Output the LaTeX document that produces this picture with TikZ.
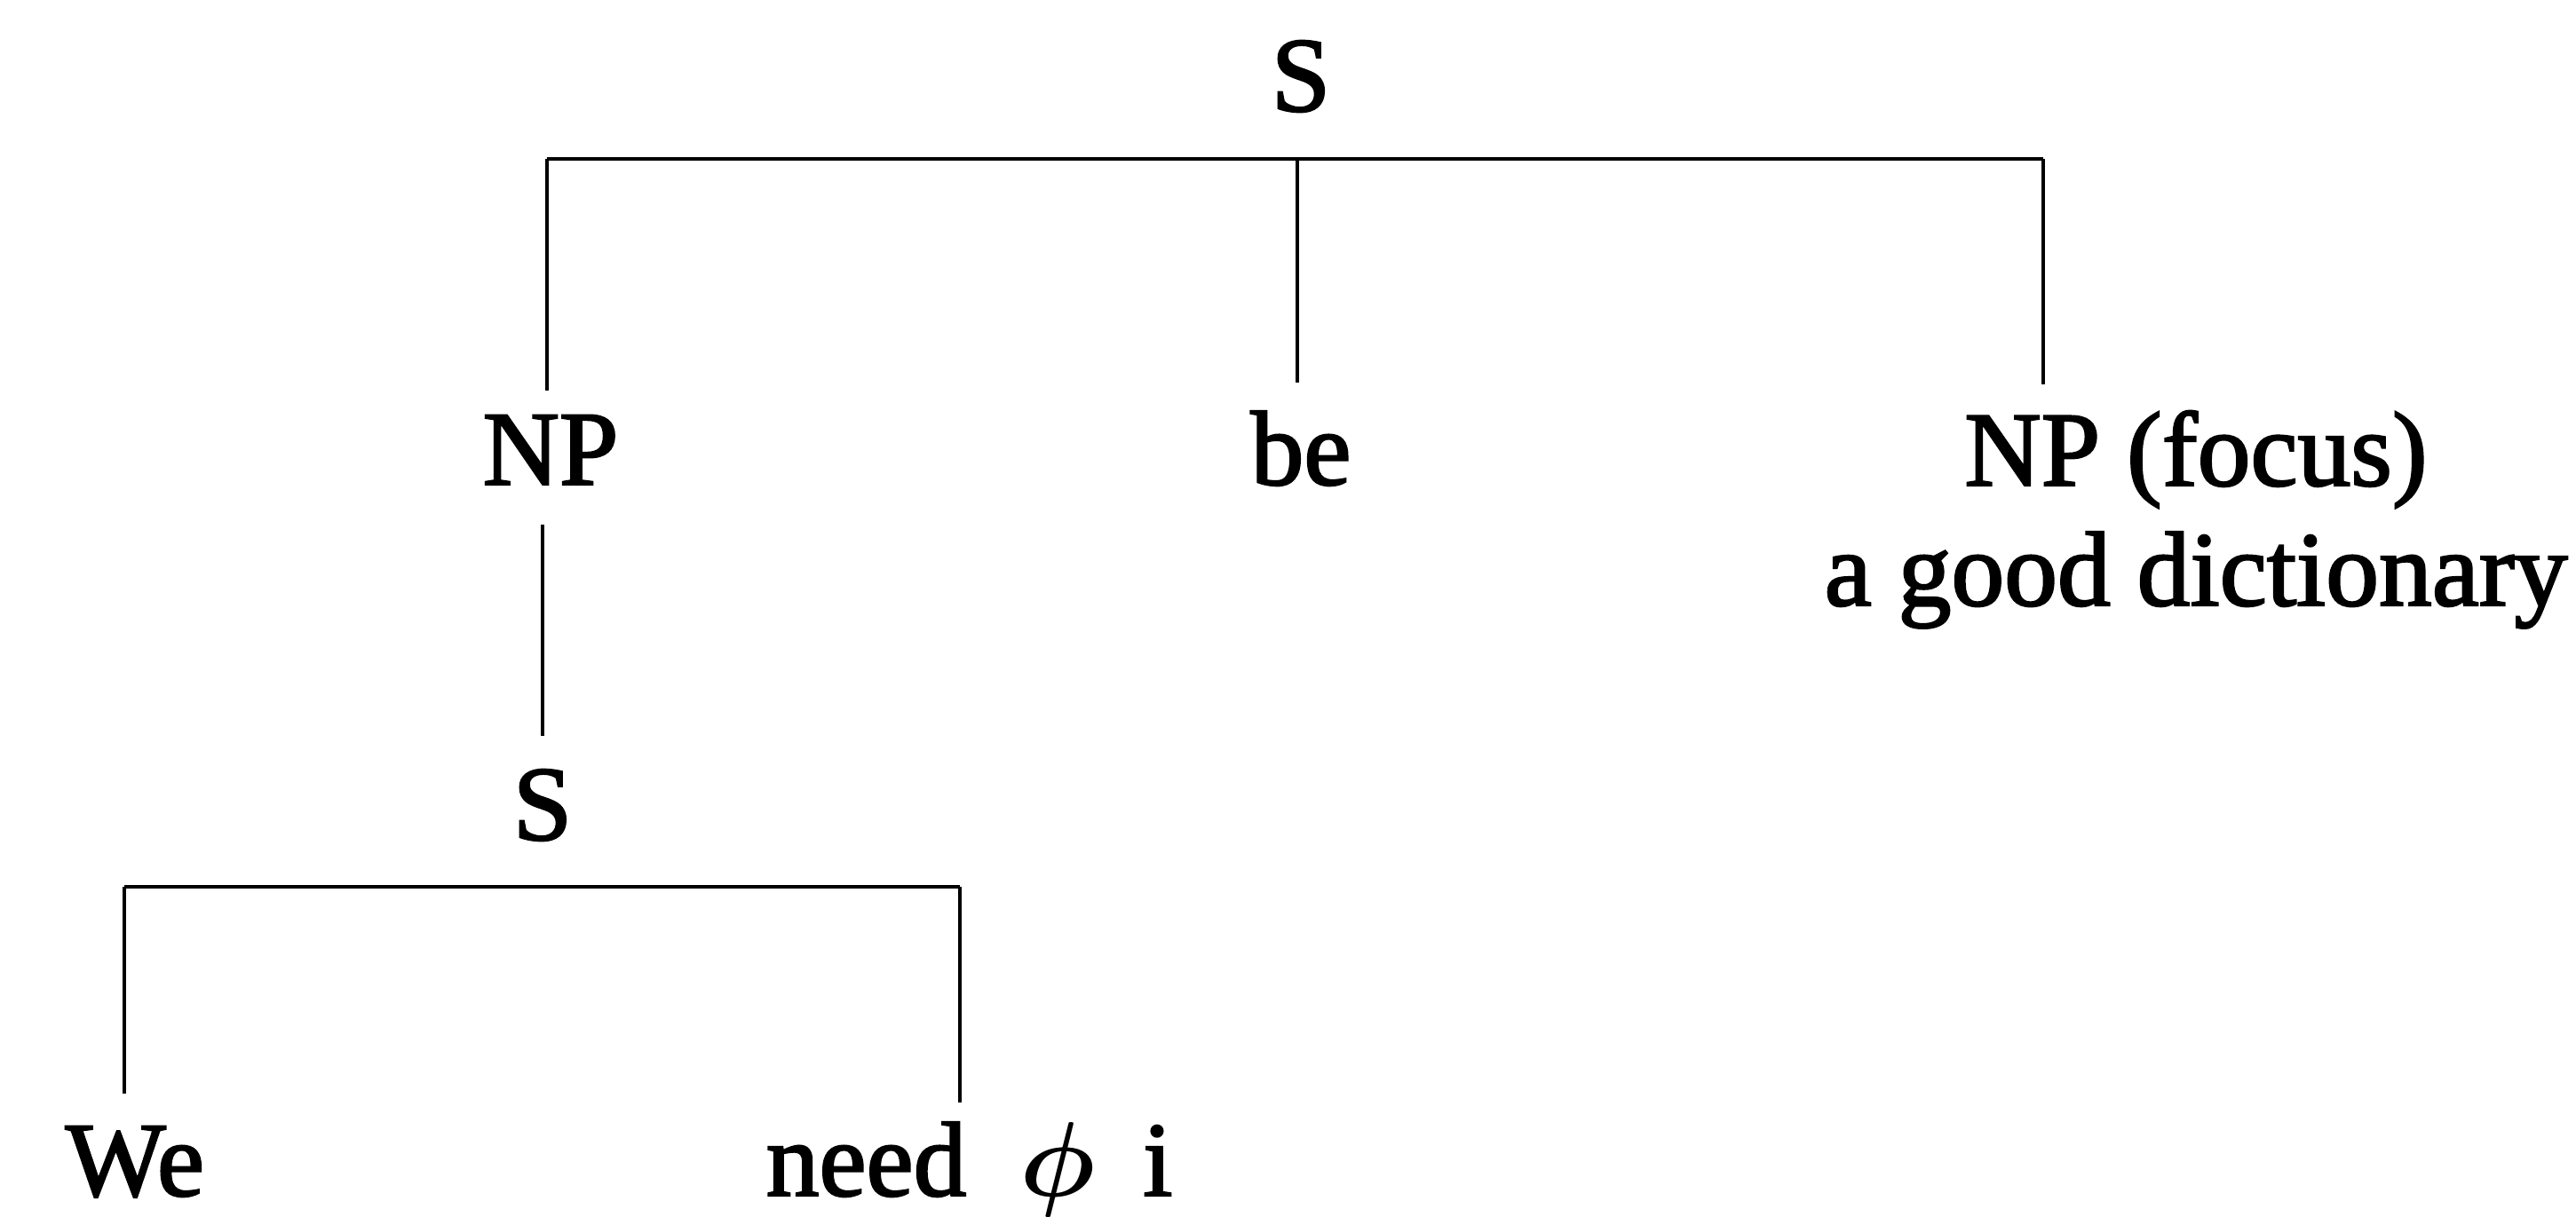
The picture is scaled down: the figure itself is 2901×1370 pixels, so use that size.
\RequirePackage{fix-cm}
\documentclass[tikz,border=0pt]{standalone}
\usepackage{fontspec}
\setmainfont{Liberation Serif}[UprightFeatures={FakeBold=2}]
\usepackage{bm}
\usetikzlibrary{positioning}

\begin{document}
\begin{tikzpicture}[x=0.01cm, y=-0.01cm,
	lab/.style={font=\fontsize{34}{38.4}\selectfont, inner sep=0pt, anchor=base, align=center},
	branch/.style={line width=0.9pt},
	bar/.style={line width=1.2pt}
	]
	\useasboundingbox (0,0) rectangle (2901,1370);
	% upper tree
	\node[lab] (s) at (1465,125) {S};
	\node[lab] (np) at (620,546) {NP};
	\node[lab] (be) at (1465,546) {be};
	\node[lab] (foc) at (2473,682) {NP (focus)\\a good dictionary};
	\coordinate (jl) at (616,179);
	\coordinate (jm) at (1461,179);
	\coordinate (jr) at (2301,179);
	\coordinate (el) at (616,440);
	\coordinate (em) at (1461,431);
	\coordinate (er) at (2301,433);
	\draw[bar] (jl) -- (jr);
	\draw[branch] (jl) -- (el);
	\draw[branch] (jm) -- (em);
	\draw[branch] (jr) -- (er);
	% embedded clause
	\node[lab] (s2) at (611,946) {S};
	\coordinate (nt) at (611,591);
	\coordinate (nb) at (611,829);
	\draw[branch] (nt) -- (nb);
	\node[lab, anchor=base west] (we) at (73,1347) {We};
	\node[lab, anchor=base west] (need) at (862,1347) {need\hspace{0.5em}$\bm{\phi}$\hspace{0.45em}i};
	\coordinate (kl) at (140,999);
	\coordinate (kr) at (1081,999);
	\coordinate (fl) at (140,1232);
	\coordinate (fr) at (1081,1242);
	\draw[bar] (kl) -- (kr);
	\draw[branch] (kl) -- (fl);
	\draw[branch] (kr) -- (fr);
\end{tikzpicture}
\end{document}
